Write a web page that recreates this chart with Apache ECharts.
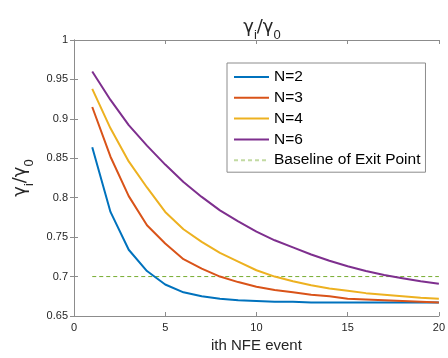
<!DOCTYPE html>
<html>
<head>
<meta charset="utf-8">
<script src="https://cdn.jsdelivr.net/npm/echarts@6/dist/echarts.min.js"></script>
<style>
	html, body { margin: 0; padding: 0; background: #fff; }
	#chart { width: 448px; height: 358px; }
</style>
</head>
<body>
<div id="chart"></div>
<script>
const events = [1, 2, 3, 4, 5, 6, 7, 8, 9, 10, 11, 12, 13, 14, 15, 16, 17, 18, 19, 20];
const n2 = [0.864, 0.782, 0.734, 0.707, 0.690, 0.680, 0.675, 0.672, 0.670, 0.669, 0.668, 0.668, 0.667, 0.667, 0.667, 0.667, 0.667, 0.667, 0.667, 0.667];
const n3 = [0.915, 0.852, 0.802, 0.765, 0.742, 0.722, 0.710, 0.700, 0.693, 0.687, 0.683, 0.680, 0.677, 0.675, 0.672, 0.671, 0.670, 0.669, 0.668, 0.667];
const n4 = [0.938, 0.888, 0.846, 0.813, 0.782, 0.760, 0.744, 0.730, 0.719, 0.708, 0.700, 0.694, 0.689, 0.685, 0.682, 0.679, 0.677, 0.675, 0.673, 0.672];
const n6 = [0.960, 0.924, 0.892, 0.866, 0.842, 0.820, 0.801, 0.784, 0.770, 0.757, 0.746, 0.737, 0.728, 0.720, 0.713, 0.707, 0.702, 0.698, 0.694, 0.691];
const baseline = 0.7;
const seriesNames = ['N=2', 'N=3', 'N=4', 'N=6', 'Baseline of Exit Point'];
const colors = ['#0072BD', '#D95319', '#EDB120', '#7E2F8E', '#77AC30'];

const font = 'Liberation Sans, Arial, sans-serif';
const greek = 'DejaVu Sans, sans-serif';
const axisGray = '#8c8c8c';
const textDark = '#262626';

const gammaRich = {
	g: { fontFamily: greek, fontSize: 18, fontWeight: 'normal', color: textDark, lineHeight: 24, verticalAlign: 'middle' },
	s: { fontFamily: font, fontSize: 13, fontWeight: 'normal', color: textDark, lineHeight: 13, verticalAlign: 'bottom', padding: [0, 0, -3, 0] },
};

const pairs = (vals) => events.map((x, i) => [x, vals[i]]);

const boxAxis = {
	axisLine: { show: true, lineStyle: { color: axisGray, width: 1 } },
	axisTick: { show: true, inside: true, length: 4, lineStyle: { color: axisGray } },
	splitLine: { show: false },
};

const chart = echarts.init(document.getElementById('chart'));
chart.setOption({
	animation: false,
	color: colors,
	title: {
		text: '{g|γ}{s|i}{g|/γ}{s|0}',
		left: 257,
		textAlign: 'center',
		top: 10,
		textStyle: { fontWeight: 'normal', rich: gammaRich },
	},
	legend: {
		orient: 'vertical',
		left: 227,
		top: 63,
		data: [
			...seriesNames.slice(0, 4),
			{ name: seriesNames[4], lineStyle: { opacity: 0.45 } },
		],
		itemWidth: 35,
		itemHeight: 14,
		itemGap: 4.8,
		padding: [6, 5, 4, 6],
		borderColor: '#8c8c8c',
		borderWidth: 1,
		backgroundColor: '#fff',
		itemStyle: { opacity: 0 },
		textStyle: { fontFamily: font, fontSize: 15.5, color: '#000', lineHeight: 14 },
	},
	grid: { left: 74, right: 8, top: 40, bottom: 42 },
	xAxis: [
		{
			type: 'value',
			min: 0,
			max: 20,
			interval: 5,
			name: 'ith NFE event',
			nameLocation: 'middle',
			nameGap: 21,
			nameTextStyle: { fontFamily: font, fontSize: 15, color: textDark },
			axisLabel: { fontFamily: font, fontSize: 11, color: textDark, margin: 6 },
			...boxAxis,
		},
		{
			type: 'value',
			position: 'top',
			min: 0,
			max: 20,
			interval: 5,
			axisLabel: { show: false },
			...boxAxis,
		},
	],
	yAxis: [
		{
			type: 'value',
			min: 0.65,
			max: 1,
			interval: 0.05,
			name: '{g|γ}{s|i}{g|/γ}{s|0}',
			nameLocation: 'middle',
			nameRotate: 90,
			nameGap: 34,
			nameTextStyle: { rich: gammaRich },
			axisLabel: { fontFamily: font, fontSize: 11, color: textDark, margin: 6 },
			...boxAxis,
		},
		{
			type: 'value',
			position: 'right',
			min: 0.65,
			max: 1,
			interval: 0.05,
			axisLabel: { show: false },
			...boxAxis,
		},
	],
	series: [
		...[n2, n3, n4, n6].map((vals, i) => ({
			name: seriesNames[i],
			type: 'line',
			data: pairs(vals),
			symbol: 'none',
			lineStyle: { width: 2, color: colors[i] },
			z: 3 + i,
		})),
		{
			name: seriesNames[4],
			type: 'line',
			data: [[events[0], baseline], [events[events.length - 1], baseline]],
			symbol: 'none',
			lineStyle: { width: 1, color: colors[4], type: [4, 3] },
			z: 2,
		},
	],
});
</script>
</body>
</html>
